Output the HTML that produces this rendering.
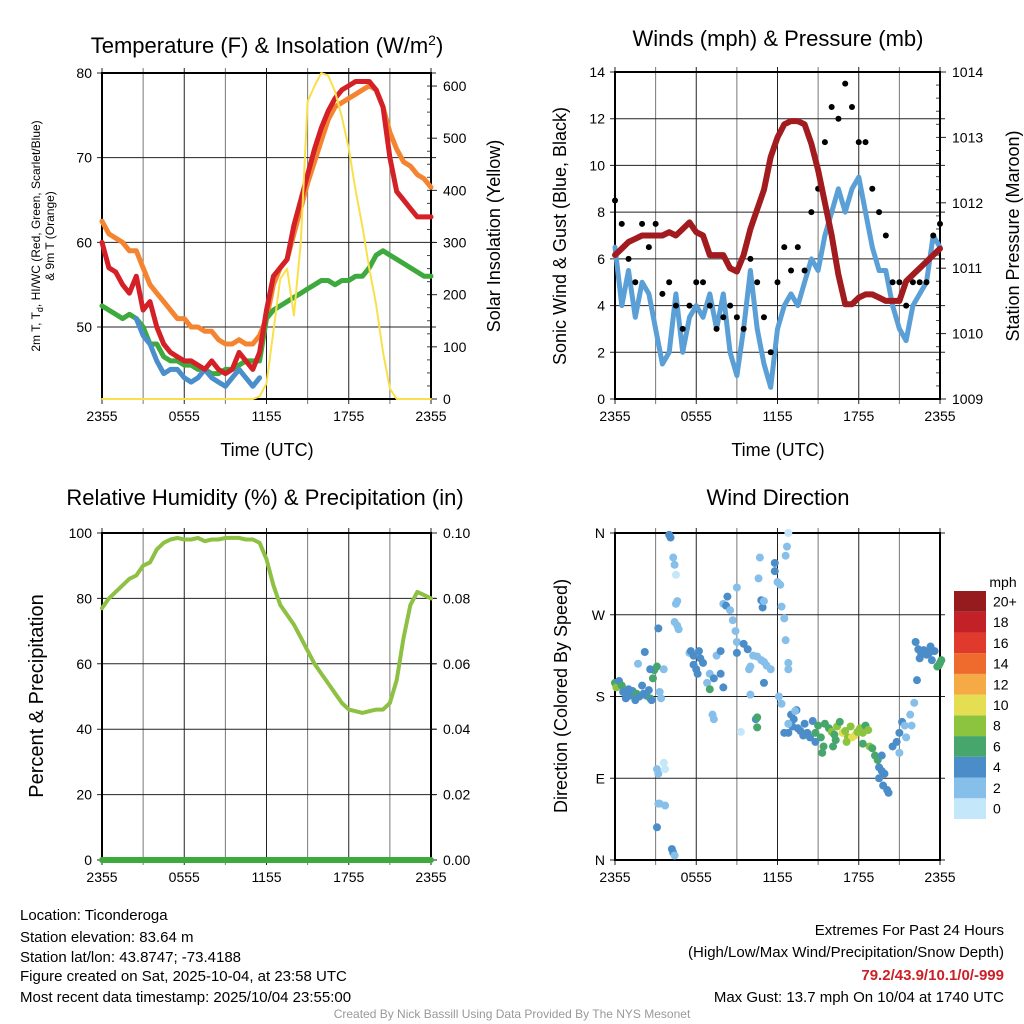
<!DOCTYPE html>
<html><head><meta charset="utf-8"><style>
body{margin:0;background:#fff;}
svg{display:block;font-family:"Liberation Sans",sans-serif;}
</style></head><body>
<svg id="s" width="1024" height="1024" viewBox="0 0 1024 1024" xmlns="http://www.w3.org/2000/svg">
<text x="267" y="53" font-size="22" text-anchor="middle">Temperature (F) &amp; Insolation (W/m<tspan dy="-8" font-size="14">2</tspan><tspan dy="8">)</tspan></text>
<text x="778" y="46" font-size="22" text-anchor="middle">Winds (mph) &amp; Pressure (mb)</text>
<text x="265" y="505" font-size="22" text-anchor="middle">Relative Humidity (%) &amp; Precipitation (in)</text>
<text x="778" y="505" font-size="22" text-anchor="middle">Wind Direction</text>
<text x="267" y="456" font-size="18" text-anchor="middle">Time (UTC)</text>
<text x="778" y="456" font-size="18" text-anchor="middle">Time (UTC)</text>
<text transform="translate(40,236) rotate(-90)" font-size="12" text-anchor="middle">2m T, T<tspan font-size="9" dy="3">d</tspan><tspan dy="-3">, HI/WC (Red, Green, Scarlet/Blue)</tspan></text>
<text transform="translate(54,236) rotate(-90)" font-size="12" text-anchor="middle">&amp; 9m T (Orange)</text>
<text transform="translate(500,236) rotate(-90)" font-size="18" text-anchor="middle">Solar Insolation (Yellow)</text>
<text transform="translate(566,236) rotate(-90)" font-size="18" text-anchor="middle">Sonic Wind &amp; Gust (Blue, Black)</text>
<text transform="translate(1019,236) rotate(-90)" font-size="18" text-anchor="middle">Station Pressure (Maroon)</text>
<text transform="translate(43,696) rotate(-90)" font-size="20" text-anchor="middle">Percent &amp; Precipitation</text>
<text transform="translate(567,696) rotate(-90)" font-size="18" text-anchor="middle">Direction (Colored By Speed)</text>
<text x="1003" y="587" font-size="14" text-anchor="middle">mph</text>
<g font-size="15">
<text x="20" y="920">Location: Ticonderoga</text>
<text x="20" y="942">Station elevation: 83.64 m</text>
<text x="20" y="962">Station lat/lon: 43.8747; -73.4188</text>
<text x="20" y="981">Figure created on Sat, 2025-10-04, at 23:58 UTC</text>
<text x="20" y="1002">Most recent data timestamp: 2025/10/04 23:55:00</text>
</g>
<g font-size="15" text-anchor="end">
<text x="1004" y="935">Extremes For Past 24 Hours</text>
<text x="1004" y="957">(High/Low/Max Wind/Precipitation/Snow Depth)</text>
<text x="1004" y="980" fill="#cc2027" font-weight="bold">79.2/43.9/10.1/0/-999</text>
<text x="1004" y="1002">Max Gust: 13.7 mph On 10/04 at 1740 UTC</text>
</g>
<text x="512" y="1018" font-size="12" fill="#999" text-anchor="middle">Created By Nick Bassill Using Data Provided By The NYS Mesonet</text>
</svg>
<script>
const hours=[0,0.5,1,1.5,2,2.5,3,3.5,4,4.5,5,5.5,6,6.5,7,7.5,8,8.5,9,9.5,10,10.5,11,11.5,12,12.5,13,13.5,14,14.5,15,15.5,16,16.5,17,17.5,18,18.5,19,19.5,20,20.5,21,21.5,22,22.5,23,23.5,24];
const xTickLabels=["2355","0555","1155","1755","2355"];
const tempRed=[60,57,56.5,55,54,56,52,53,50,48,47,46.5,46,46,45.5,45,46,45,44.5,45,47,46,45,47,52,56,57,58,62,65,68,71,73.5,75.5,77,78,78.5,79,79,79,78,76,70,66,65,64,63,63,63];
const tempOrange=[62.5,61,60.5,60,59,59,57,55,54,53,52,51,51,50,50,49.5,49.5,48.5,48,48,48.5,48,48,49,51,55,57,58,61,64,67,69.5,72,74.5,76,76.5,77,77.5,78,78.5,78,76,73,71,69.5,69,68,67.5,66.5];
const dewGreen=[52.5,52,51.5,51,51.5,51,50,48,48,46.5,46,46,45.5,45.5,45,45,44.5,44.5,45,45,45.5,46,46,46,51,52,52.5,53,53.5,54,54.5,55,55.5,55.5,55,55.5,55.5,56,56,57,58.5,59,58.5,58,57.5,57,56.5,56,56];
const wcHours=[2.5,3,3.5,4,4.5,5,5.5,6,6.5,7,7.5,8,8.5,9,9.5,10,10.5,11,11.5];
const wcBlue=[51,49,48,46,44.5,45,45,44,43.5,44,45,44,43.5,43,44,45,44,43,44];
const solar=[0,0,0,0,0,0,0,0,0,0,0,0,0,0,0,0,0,0,0,0,0,0,0,5,30,130,230,250,160,300,570,600,625,620,590,540,480,400,330,250,180,90,20,0,0,0,0,0,0];
const windSpeed=[6.5,4,5.5,3.5,5,4.5,3,1.5,2,4.5,2,3.5,4,3.5,4.5,3,4.5,2,1,3,5.5,3,1.5,0.5,3,4,4.5,4,5,6,5.5,7,8,9,8,9,9.5,8,6.5,5.5,5.5,4,3,2.5,4,4.5,5,7,6.5];
const windGust=[8.5,7.5,6,5,7.5,6.5,7.5,4.5,5,4,3,4,5,5,4,3,3.5,4,3.5,3,6,5,3.5,2,5,6.5,5.5,6.5,5.5,8,9,11,12.5,12,13.5,12.5,11,11,9,8,7,5,5,4,5,5,5,7,7.5];
const pressure=[1011.2,1011.3,1011.4,1011.45,1011.5,1011.5,1011.5,1011.5,1011.55,1011.5,1011.6,1011.7,1011.55,1011.5,1011.2,1011.2,1011.2,1011.0,1010.95,1011.2,1011.6,1011.9,1012.2,1012.7,1013.0,1013.2,1013.25,1013.25,1013.2,1012.9,1012.5,1012.0,1011.5,1010.9,1010.45,1010.45,1010.55,1010.6,1010.6,1010.55,1010.5,1010.5,1010.5,1010.8,1010.9,1011.0,1011.1,1011.2,1011.3];
const rh=[77,80,82,84,86,87,90,91,95,97,98,98.5,98,98,98.5,97.5,98,98,98.5,98.5,98.5,98,98,97,92,84,78,75,72,68,64,60,57,54,51,48,46,45.5,45,45.5,46,46,48,55,68,78,82,81,80];
const precip=[0,0,0,0,0,0,0,0,0,0,0,0,0,0,0,0,0,0,0,0,0,0,0,0,0,0,0,0,0,0,0,0,0,0,0,0,0,0,0,0,0,0,0,0,0,0,0,0,0];
const dirHours=[0,0.1,0.3,0.5,0.6,0.8,1,1.1,1.3,1.5,1.6,1.8,2,2.1,2.3,2.5,2.6,2.7,2.8,2.9,3.1,2.6,2.2,1.7,
3.2,3.3,3.4,3.6,3.1,3.2,3.2,3.1,3.6,3.7,3.3,3.7,4,4.1,4.2,4.3,4.4,4.3,4.4,4.5,4.5,4.6,4.4,4.6,4.7,
5.5,5.6,5.8,5.8,6,6.1,6.2,6.3,6.5,6.8,7,7,7.3,7.5,7.8,7.8,8,7.2,7.3,8,8.2,8.3,8.5,8.7,9,9,8.9,9,9.5,9.8,9.9,10,10,10.2,10.5,10.8,11,11,11.2,11.5,11.8,11.8,12,12.2,12.3,12.6,12.7,12.8,12.5,12.6,12.8,12.8,10.8,10.9,11,10.7,10.6,9.3,10.4,10.5,10.5,12.1,12.3,
13,13.2,13.4,12.8,13.1,13.5,13.7,14,14.2,14.4,13.9,14.6,14.8,15,15.2,15.4,15.3,14.8,12.5,13.3,12.8,
15.5,15.8,16,16.2,16.4,16.6,16.8,17,17.2,17.4,17.5,17.7,17.9,18.1,18.3,18.5,18.7,18.8,18.3,17.1,16.1,16.3,
19,19.2,19.4,19.5,19.7,19.9,19.5,19.8,20.1,20.2,19.7,
20.5,20.8,21,21.2,21.4,21,21.5,21.9,21.8,22.1,22.3,
22.2,22.4,22.5,22.6,22.8,23,23.2,23.4,23.6,23.3,23.8,24,24.1,23.9];
const dirDeg=[195,190,197,192,185,178,188,181,186,176,183,180,192,183,181,187,178,176,200,209,213,210,229,216,
255,185,178,210,100,95,62,36,107,100,62,60,358,355,12,8,5,333,325,314,282,285,262,258,254,
228,230,225,215,210,205,230,222,217,195,188,205,200,225,230,205,190,160,155,282,280,290,275,264,300,240,252,228,238,232,210,182,213,225,224,220,195,218,214,210,327,318,306,303,279,335,345,360,266,242,217,210,286,278,285,333,310,141,155,157,146,180,172,
160,155,165,140,147,145,142,150,140,135,137,153,140,148,135,125,118,130,140,164,150,
150,145,141,138,147,152,140,142,135,147,135,137,141,145,140,148,143,125,128,130,125,132,
123,115,110,102,98,95,90,82,77,74,115,
125,130,140,152,148,118,135,148,160,173,198,
240,232,222,228,231,226,228,220,230,235,213,217,220,214];
const dirSpeed=[7,8,5,6,5,5,4,5,5,4,6,5,5,4,5,5,6,4,6,6,6,4,4,3,
5,3,3,2,3,3,3,5,1,1,2,3,4,4,4,4,3,3,3,1,3,3,3,3,3,
3,4,4,4,4,4,4,4,4,3,6,3,4,3,4,4,4,3,3,3,4,4,3,2,3,3,3,4,4,4,2,2,3,3,2,3,4,3,3,2,4,4,3,3,2,3,3,1,3,3,3,2,4,4,3,2,2,1,4,6,6,2,3,
4,4,4,4,4,4,4,4,4,4,4,4,6,6,6,6,6,4,4,3,3,
6,6,8,6,8,6,10,8,8,8,10,10,8,8,8,6,8,8,6,8,6,6,
6,6,6,4,4,4,4,4,4,4,4,
4,4,4,4,3,3,3,3,3,3,4,
4,4,4,4,4,4,4,4,4,4,6,6,6,6];
const cbLabels=["0","2","4","6","8","10","12","14","16","18","20+"];
const cbColors=["#c4e8f9","#86c0ea","#4b8dc9","#47a66b","#8cc43f","#e5de52","#f6aa45","#ee6a2d","#df3a2c","#c12127","#961b1e"];

const svg=document.getElementById('s');const NS="http://www.w3.org/2000/svg";
function mk(t,a,p){const e=document.createElementNS(NS,t);for(const k in a)e.setAttribute(k,a[k]);(p||svg).appendChild(e);return e;}
function scale(d0,d1,r0,r1){return v=>r0+(v-d0)/(d1-d0)*(r1-r0);}
function panel(name,x0,x1,y0,y1,ly,ry){
 const g=mk('g',{});
 
 
 const X=scale(0,24,x0,x1),YL=scale(ly.min,ly.max,y1,y0);
 const YR=ry?scale(ry.min,ry.max,y1,y0):YL;
 for(let h=0;h<=24;h+=3){const x=X(h);mk('line',{x1:x,x2:x,y1:y0-5,y2:y1+5,stroke:h%6?'#777':'#222','stroke-width':1},g);}
 xTickLabels.forEach((l,i)=>{const t=mk('text',{x:X(i*6),y:y1+22,'font-size':14,'text-anchor':'middle'},g);t.textContent=l;});
 ly.ticks.forEach((v,i)=>{const y=YL(v);mk('line',{x1:x0-5,x2:x1+5,y1:y,y2:y,stroke:'#222','stroke-width':1},g);const t=mk('text',{x:x0-10,y:y+5,'font-size':14,'text-anchor':'end'},g);t.textContent=ly.labels?ly.labels[i]:v;});
 if(ry){ry.ticks.forEach((v,i)=>{const y=YR(v);mk('line',{x1:x1,x2:x1+6,y1:y,y2:y,stroke:'#222'},g);const t=mk('text',{x:x1+12,y:y+5,'font-size':14},g);t.textContent=ry.labels?ry.labels[i]:v;});
  if(ry.minor){for(let v=ry.min;v<=ry.max;v+=ry.minor){const y=YR(v);mk('line',{x1:x1-4,x2:x1,y1:y,y2:y,stroke:'#444'},g);}}}
 mk('rect',{x:x0,y:y0,width:x1-x0,height:y1-y0,fill:'none',stroke:'#000','stroke-width':2},g);
 return {g,X,YL,YR};
}
function line(p,xs,ys,Y,col,w,name){let d='';xs.forEach((h,i)=>{d+=(i?'L':'M')+p.X(h).toFixed(1)+','+Y(ys[i]).toFixed(1);});
 const e=mk('path',{d:d,fill:'none',stroke:col,'stroke-width':w,'stroke-linejoin':'round','stroke-linecap':'round'},p.g);
 
 }

// Panel 1
const p1=panel('temperature-panel',102,431,73,399,{min:41.5,max:80,ticks:[50,60,70,80]},{min:0,max:625,ticks:[0,100,200,300,400,500,600],minor:25});
line(p1,hours,tempOrange,p1.YL,'#f58431',5,'orange-9m-temp-line');
line(p1,hours,dewGreen,p1.YL,'#3eaa3e',5,'green-dewpoint-line');
line(p1,wcHours,wcBlue,p1.YL,'#4a8fcc',5,'blue-windchill-line');
line(p1,hours,tempRed,p1.YL,'#d42027',5,'red-2m-temp-line');
line(p1,hours,solar,p1.YR,'#f9e04b',2,'yellow-insolation-line');

// Panel 2
const p2=panel('wind-panel',615,940,72,399,{min:0,max:14,ticks:[0,2,4,6,8,10,12,14]},{min:1009,max:1014,ticks:[1009,1010,1011,1012,1013,1014],minor:0.2});
line(p2,hours,windSpeed,p2.YL,'#5a9fd6',5,'blue-wind-speed-line');
hours.forEach((h,i)=>{const c=mk('circle',{cx:p2.X(h),cy:p2.YL(windGust[i]),r:3,fill:'#000'},p2.g);
 
 });
line(p2,hours,pressure,p2.YR,'#a11b1f',6,'maroon-pressure-line');

// Panel 3
const p3=panel('humidity-panel',102,431,533,860,{min:0,max:100,ticks:[0,20,40,60,80,100]},{min:0,max:0.1,ticks:[0,0.02,0.04,0.06,0.08,0.1],labels:["0.00","0.02","0.04","0.06","0.08","0.10"]});
line(p3,hours,rh,p3.YL,'#8dc043',4,'green-humidity-line');
line(p3,hours,precip,p3.YR,'#3eaa3e',6,'precipitation-line');

// Panel 4
const p4=panel('direction-panel',615,940,533,860,{min:0,max:360,ticks:[0,90,180,270,360],labels:["N","E","S","W","N"]},null);
dirHours.forEach((h,i)=>{const b=Math.min(10,Math.floor(dirSpeed[i]/2));const c=mk('circle',{cx:p4.X(h),cy:p4.YL(dirDeg[i]),r:4,fill:cbColors[b]},p4.g);
 
 });

// colorbar
const cb=mk('g',{});


const cbY=scale(0,11,819,591);
cbLabels.forEach((l,i)=>{const r=mk('rect',{x:954,y:cbY(i+1),width:32,height:cbY(i)-cbY(i+1),fill:cbColors[i]},cb);
 
 
 const t=mk('text',{x:993,y:(cbY(i)+cbY(i+1))/2+5,'font-size':14},cb);t.textContent=l;});
</script>
</body></html>
